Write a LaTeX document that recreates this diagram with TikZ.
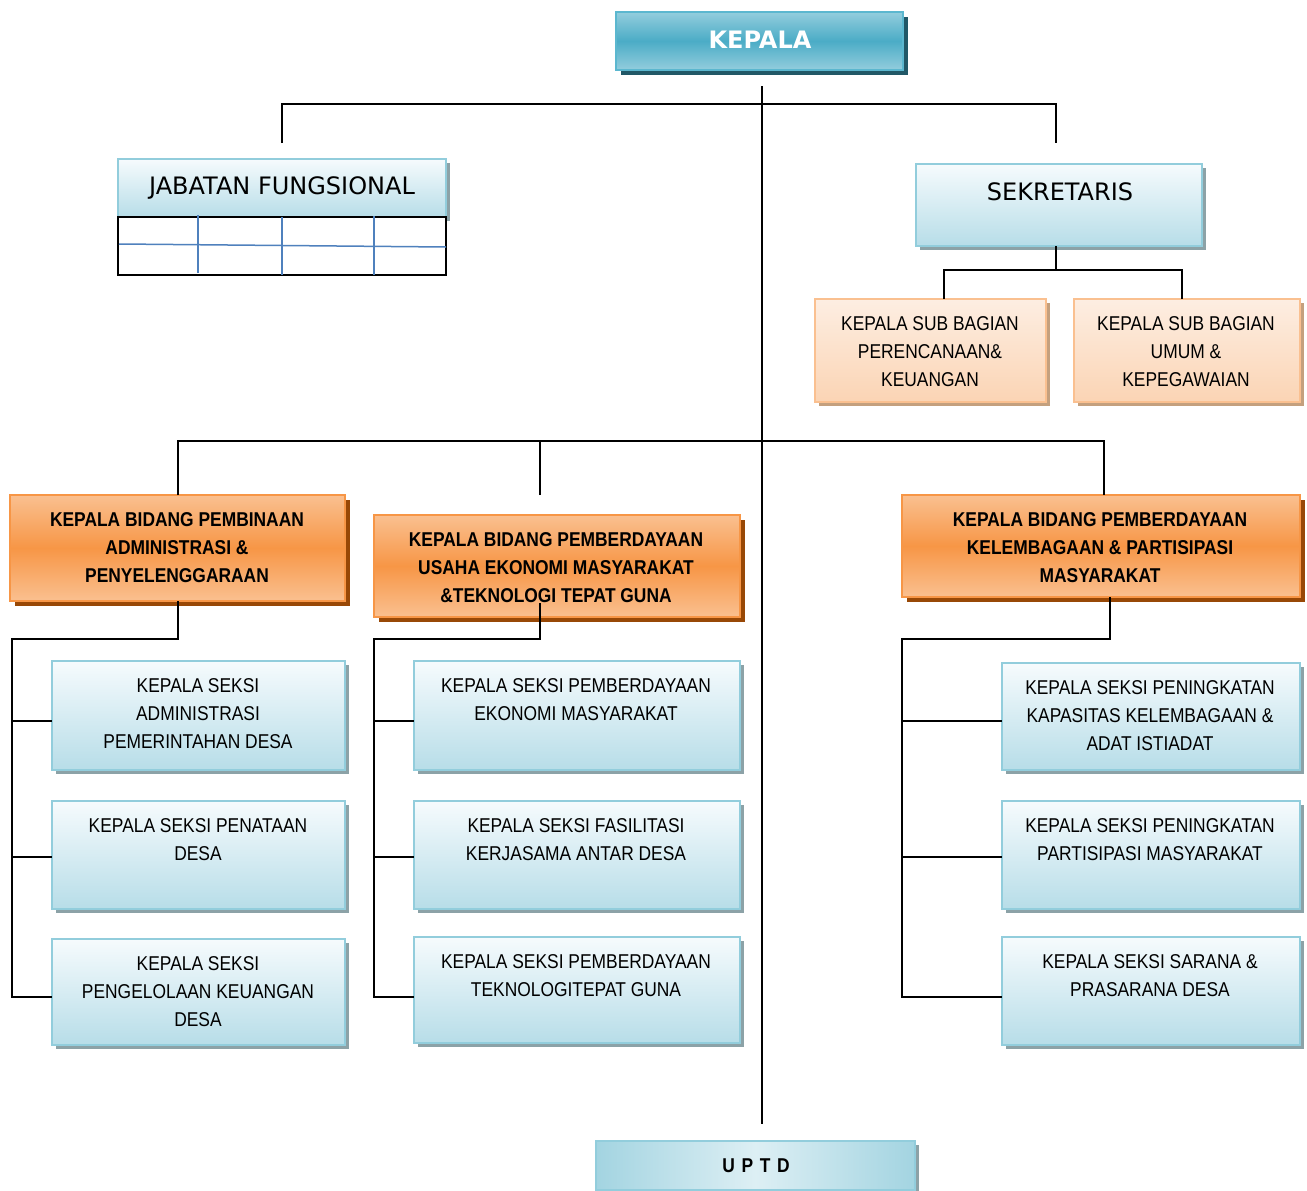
\documentclass[tikz,border=0pt]{standalone}
\usepackage{fontspec}
\setmainfont{Liberation Sans}
\newfontfamily\narrowfont[FakeStretch=0.87]{Liberation Sans}
\newfontfamily\tahfont{DejaVu Sans}
\usetikzlibrary{shadows}
\definecolor{tealmid}{HTML}{4BACC6}
\definecolor{teallight}{HTML}{93CDDD}
\definecolor{tealborder}{HTML}{5BB7CF}
\definecolor{tealshadow}{HTML}{215867}
\definecolor{blueborder}{HTML}{92CDDC}
\definecolor{bluetop}{HTML}{F6FBFD}
\definecolor{bluebottom}{HTML}{B7DDE8}
\definecolor{blueshadow}{HTML}{8CA2A7}
\definecolor{peachborder}{HTML}{FAC090}
\definecolor{peachtop}{HTML}{FDEEE2}
\definecolor{peachbottom}{HTML}{FBD4B4}
\definecolor{peachshadow}{HTML}{C4A07E}
\definecolor{orangeborder}{HTML}{F79646}
\definecolor{orangelight}{HTML}{FAC090}
\definecolor{orangemid}{HTML}{F79646}
\definecolor{orangeshadow}{HTML}{984806}
\definecolor{tableblue}{HTML}{4F81BD}
\definecolor{uptdedge}{HTML}{A3D4E1}
\definecolor{uptdlight}{HTML}{DDEFF4}
\begin{document}
\begin{tikzpicture}[x=1pt,y=-1pt,
  boxbase/.style={draw, rectangle, inner sep=0pt, outer sep=0pt, line width=2.2pt},
  tealbox/.style={boxbase, draw=tealborder, top color=teallight, bottom color=teallight, middle color=tealmid,
     drop shadow={shadow xshift=5pt, shadow yshift=-5pt, fill=tealshadow, opacity=1}},
  bluebox/.style={boxbase, draw=blueborder, top color=bluetop, bottom color=bluebottom,
     drop shadow={shadow xshift=4pt, shadow yshift=-4pt, fill=blueshadow, opacity=1}},
  peachbox/.style={boxbase, draw=peachborder, top color=peachtop, bottom color=peachbottom,
     drop shadow={shadow xshift=4pt, shadow yshift=-4pt, fill=peachshadow, opacity=1}},
  orangebox/.style={boxbase, draw=orangeborder, top color=orangelight, bottom color=orangelight, middle color=orangemid,
     drop shadow={shadow xshift=5pt, shadow yshift=-5pt, fill=orangeshadow, opacity=1}},
  uptdbox/.style={boxbase, draw=blueborder, left color=uptdedge, right color=uptdedge, middle color=uptdlight,
     drop shadow={shadow xshift=4pt, shadow yshift=-4pt, fill=blueshadow, opacity=1}},
  tablebox/.style={draw=black, line width=1.2pt, fill=white, rectangle, inner sep=0pt, outer sep=0pt},
  tblline/.style={draw=tableblue, line width=1.5pt},
  txt/.style={align=center, inner sep=0pt, font=\narrowfont\fontsize{20}{28}\selectfont},
  btxt/.style={align=center, inner sep=0pt, font=\narrowfont\bfseries\fontsize{20}{28}\selectfont},
  conn/.style={draw=black, line width=1.8pt}
]
\useasboundingbox (0,0) rectangle (1307,1191);
\fill[white] (0,0) rectangle (1307,1191);

% ---------- boxes ----------
\node[tealbox, minimum width=287pt, minimum height=58pt] (kepala) at (759.5,41) {};
\node[bluebox, minimum width=328pt, minimum height=58pt] (jf) at (282,188) {};
\node[tablebox, minimum width=328pt, minimum height=58pt] (jft) at (282,246) {};
\node[bluebox, minimum width=286pt, minimum height=82pt] (sek) at (1059,205) {};
\node[peachbox, minimum width=231pt, minimum height=103pt] (sbl) at (930.5,350.5) {};
\node[peachbox, minimum width=226pt, minimum height=103pt] (sbr) at (1187,350.5) {};

\node[orangebox, minimum width=335pt, minimum height=106pt] (bl) at (177.5,548) {};
\node[orangebox, minimum width=366pt, minimum height=102pt] (bm) at (557,566) {};
\node[orangebox, minimum width=398pt, minimum height=102pt] (br) at (1101,546) {};

\node[bluebox, minimum width=293pt, minimum height=109pt] (s11) at (198.5,715.5) {};
\node[bluebox, minimum width=293pt, minimum height=108pt] (s12) at (198.5,855) {};
\node[bluebox, minimum width=293pt, minimum height=106pt] (s13) at (198.5,992) {};

\node[bluebox, minimum width=326pt, minimum height=109pt] (s21) at (577,715.5) {};
\node[bluebox, minimum width=326pt, minimum height=108pt] (s22) at (577,855) {};
\node[bluebox, minimum width=326pt, minimum height=106pt] (s23) at (577,990) {};

\node[bluebox, minimum width=298pt, minimum height=107pt] (s31) at (1151,716.5) {};
\node[bluebox, minimum width=298pt, minimum height=108pt] (s32) at (1151,855) {};
\node[bluebox, minimum width=298pt, minimum height=108pt] (s33) at (1151,991) {};

\node[uptdbox, minimum width=319pt, minimum height=49pt] (uptd) at (755.5,1165.5) {};

% ---------- table lines ----------
\draw[tblline] (119,244) -- (446,247);
\draw[tblline] (198,215) -- (198,273);
\draw[tblline] (282,217) -- (282,275);
\draw[tblline] (374,216) -- (374,275);

% ---------- texts ----------
\node[font=\tahfont\bfseries\fontsize{24}{28}\selectfont, text=white, inner sep=0pt] (tk) at (760,40) {KEPALA};
\node[font=\tahfont\fontsize{24}{28}\selectfont, inner sep=0pt] (tjf) at (282,188) {JABATAN FUNGSIONAL};
\node[font=\tahfont\fontsize{24}{28}\selectfont, inner sep=0pt] (tsk) at (1060,192) {SEKRETARIS};
\node[txt] (tsbl) at (930,352) {KEPALA SUB BAGIAN\\PERENCANAAN\&\\KEUANGAN};
\node[txt] (tsbr) at (1186,352) {KEPALA SUB BAGIAN\\UMUM \&\\KEPEGAWAIAN};

\node[btxt] (tbl) at (177,548) {KEPALA BIDANG PEMBINAAN\\ADMINISTRASI \&\\PENYELENGGARAAN};
\node[btxt] (tbm) at (556,568) {KEPALA BIDANG PEMBERDAYAAN\\USAHA EKONOMI MASYARAKAT\\\&TEKNOLOGI TEPAT GUNA};
\node[btxt] (tbr) at (1100,548) {KEPALA BIDANG PEMBERDAYAAN\\KELEMBAGAAN \& PARTISIPASI\\MASYARAKAT};

\node[txt] (ts11) at (198,714) {KEPALA SEKSI\\ADMINISTRASI\\PEMERINTAHAN DESA};
\node[txt] (ts12) at (198,840) {KEPALA SEKSI PENATAAN\\DESA};
\node[txt] (ts13) at (198,992) {KEPALA SEKSI\\PENGELOLAAN KEUANGAN\\DESA};

\node[txt] (ts21) at (576,700) {KEPALA SEKSI PEMBERDAYAAN\\EKONOMI MASYARAKAT};
\node[txt] (ts22) at (576,840) {KEPALA SEKSI FASILITASI\\KERJASAMA ANTAR DESA};
\node[txt] (ts23) at (576,976) {KEPALA SEKSI PEMBERDAYAAN\\TEKNOLOGITEPAT GUNA};

\node[txt] (ts31) at (1150,716) {KEPALA SEKSI PENINGKATAN\\KAPASITAS KELEMBAGAAN \&\\ADAT ISTIADAT};
\node[txt] (ts32) at (1150,840) {KEPALA SEKSI PENINGKATAN\\PARTISIPASI MASYARAKAT};
\node[txt] (ts33) at (1150,976) {KEPALA SEKSI SARANA \&\\PRASARANA DESA};

\node[btxt, font=\narrowfont\bfseries\fontsize{20}{28}\selectfont] (tu) at (756,1166) {U\,\,P\,\,T\,\,D};

% ---------- connector points ----------
\coordinate (cK) at (762,86);
\coordinate (cU) at (762,1124);
\coordinate (cBar) at (762,104);
\coordinate (cJF) at (282,143);
\coordinate (cSK) at (1056,143);
\coordinate (cSekB) at (1056,246);
\coordinate (cSub) at (1056,270);
\coordinate (cSbL) at (944,299);
\coordinate (cSbR) at (1182,299);
\coordinate (cMid) at (762,441);
\coordinate (cBdL) at (178,495);
\coordinate (cBdM) at (540,495);
\coordinate (cBdR) at (1104,495);

\coordinate (lA) at (178,601);
\coordinate (lJ) at (12,639);
\coordinate (lB1) at (52,721);
\coordinate (lB2) at (52,857);
\coordinate (lB3) at (52,997);

\coordinate (mA) at (540,603);
\coordinate (mJ) at (374,639);
\coordinate (mB1) at (414,721);
\coordinate (mB2) at (414,857);
\coordinate (mB3) at (414,997);

\coordinate (rA) at (1110,597);
\coordinate (rJ) at (902,639);
\coordinate (rB1) at (1002,721);
\coordinate (rB2) at (1002,857);
\coordinate (rB3) at (1002,997);

% ---------- connectors ----------
\draw[conn] (cK) -- (cU);
\draw[conn] (cJF) |- (cBar) -| (cSK);
\draw[conn] (cSekB) -- (cSub);
\draw[conn] (cSbL) |- (cSub) -| (cSbR);
\draw[conn] (cBdL) |- (cMid) -| (cBdR);
\draw[conn] (cBdM) -- (cBdM |- cMid);

\draw[conn] (lA) |- (lJ) |- (lB3);
\draw[conn] (lJ |- lB1) -- (lB1);
\draw[conn] (lJ |- lB2) -- (lB2);

\draw[conn] (mA) |- (mJ) |- (mB3);
\draw[conn] (mJ |- mB1) -- (mB1);
\draw[conn] (mJ |- mB2) -- (mB2);

\draw[conn] (rA) |- (rJ) |- (rB3);
\draw[conn] (rJ |- rB1) -- (rB1);
\draw[conn] (rJ |- rB2) -- (rB2);
\end{tikzpicture}
\end{document}
